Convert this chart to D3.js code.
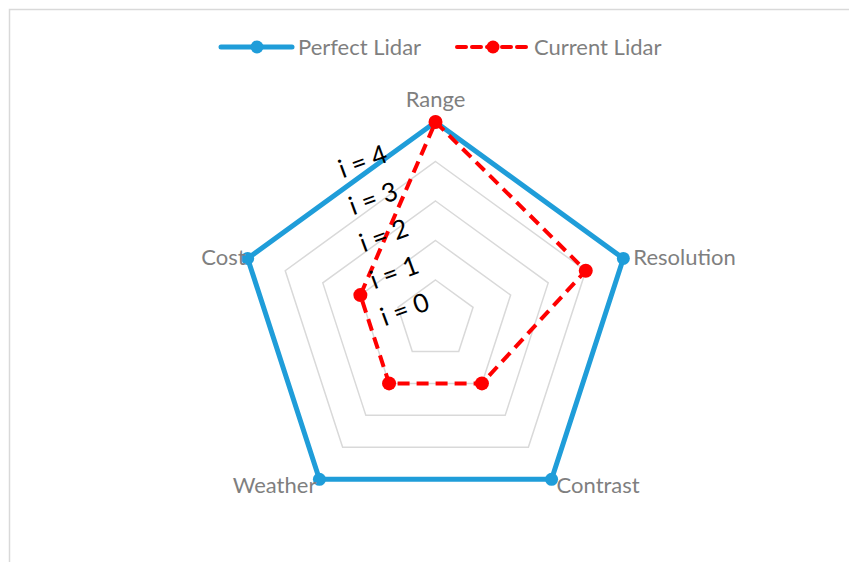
<!DOCTYPE html>
<html>
<head>
<meta charset="utf-8">
<script src="https://cdn.jsdelivr.net/npm/d3@7"></script>
<style>
  body { margin: 0; background: #fff; }
  svg text { font-family: Lato, "Open Sans", sans-serif; }
</style>
</head>
<body>
<svg id="chart" width="849" height="562"></svg>
<script>
// data
var categories = ["Range", "Resolution", "Contrast", "Weather", "Cost"];
var perfectLidar = [5, 5, 5, 5, 5];
var currentLidar = [5, 4, 2, 2, 2];
var gridLevels = [1, 2, 3, 4, 5];
var stepLabels = ["i = 0", "i = 1", "i = 2", "i = 3", "i = 4"];

var width = 849, height = 562;
var cx = 435.5, cy = 319.5, radius = 197.5;
var blue = "#1f9dd9", red = "#ff0000";

var svg = d3.select("#chart");

// chart border (runs off the right/bottom edge)
svg.append("rect")
  .attr("x", 9.5).attr("y", 9.5)
  .attr("width", width).attr("height", height)
  .attr("fill", "none").attr("stroke", "#d9d9d9").attr("stroke-width", 1.5);

var r = d3.scaleLinear().domain([0, 5]).range([0, radius]);
var angle = d3.scalePoint().domain(categories).range([0, 2 * Math.PI * 4 / 5]);

function pt(cat, v) {
  var a = angle(cat);
  return [cx + Math.sin(a) * r(v), cy - Math.cos(a) * r(v)];
}

var g = svg.append("g");

// grid pentagons
var ring = d3.line().curve(d3.curveLinearClosed);
g.selectAll(".grid").data(gridLevels).enter()
  .append("path")
  .attr("class", "grid")
  .attr("d", function(l) { return ring(categories.map(function(c) { return pt(c, l); })); })
  .attr("fill", "none").attr("stroke", "#d9d9d9").attr("stroke-width", 1.5);

// series
function drawSeries(values, color, w, dash, mr) {
  var pts = categories.map(function(c, i) { return pt(c, values[i]); });
  g.append("path")
    .attr("d", ring(pts))
    .attr("fill", "none").attr("stroke", color).attr("stroke-width", w)
    .attr("stroke-dasharray", dash).attr("stroke-linejoin", "round");
  g.selectAll(null).data(pts).enter()
    .append("circle")
    .attr("cx", function(d) { return d[0]; })
    .attr("cy", function(d) { return d[1]; })
    .attr("r", mr).attr("fill", color);
}
drawSeries(perfectLidar, blue, 5, null, 6.5);
drawSeries(currentLidar, red, 4, "12,7", 7);

// axis labels
categories.forEach(function(c) {
  var p = pt(c, 5), a = angle(c);
  var t = g.append("text").text(c)
    .attr("fill", "#7f7f7f").attr("font-size", 22);
  if (a === 0) {
    t.attr("x", p[0]).attr("y", p[1] - 15).attr("text-anchor", "middle");
  } else if (a < Math.PI / 2) {
    t.attr("x", p[0] + 10).attr("y", p[1] + 7).attr("text-anchor", "start");
  } else if (a < Math.PI) {
    t.attr("x", p[0] + 5).attr("y", p[1] + 14).attr("text-anchor", "start");
  } else if (a < 3 * Math.PI / 2) {
    t.attr("x", p[0] - 3).attr("y", p[1] + 14).attr("text-anchor", "end");
  } else {
    t.attr("x", p[0] - 2).attr("y", p[1] + 7).attr("text-anchor", "end");
  }
});

// i = n annotations
g.selectAll(".step").data(stepLabels).enter()
  .append("text")
  .attr("class", "step")
  .attr("transform", function(d, i) {
    var x = cx - 31 - 10.5 * i, y = cy - 11 - 37 * i;
    return "translate(" + x + "," + y + ") rotate(-20)";
  })
  .attr("text-anchor", "middle").attr("dominant-baseline", "central")
  .attr("font-size", 26).attr("fill", "#000")
  .text(function(d) { return d; });

// legend
var legend = svg.append("g");
var items = [
  { name: "Perfect Lidar", color: blue, w: 5, dash: null, x: 221 },
  { name: "Current Lidar", color: red, w: 4, dash: "9,6", x: 457 }
];
items.forEach(function(it) {
  legend.append("line")
    .attr("x1", it.x).attr("x2", it.x + 71).attr("y1", 47).attr("y2", 47)
    .attr("stroke", it.color).attr("stroke-width", it.w)
    .attr("stroke-dasharray", it.dash).attr("stroke-linecap", "round");
  legend.append("circle")
    .attr("cx", it.x + 36).attr("cy", 47).attr("r", 6.5).attr("fill", it.color);
  legend.append("text")
    .attr("x", it.x + 77).attr("y", 55)
    .attr("fill", "#7f7f7f").attr("font-size", 22)
    .text(it.name);
});
</script>
</body>
</html>
